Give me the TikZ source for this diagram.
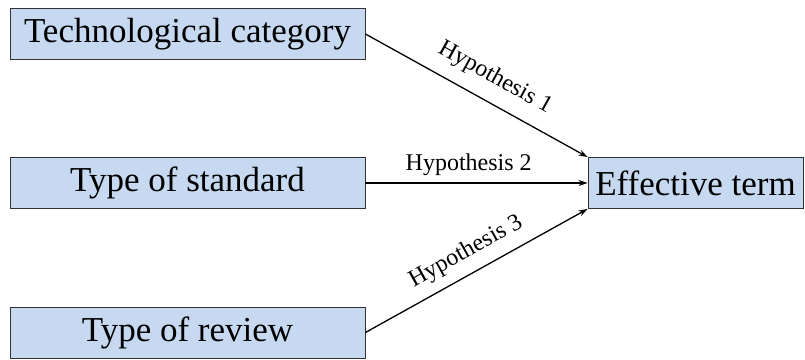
\documentclass[tikz,border=0pt]{standalone}
\usepackage{fontspec}
\setmainfont{Liberation Serif}
\newfontfamily\boxfont{Liberation Serif}
\usetikzlibrary{arrows.meta}
\definecolor{boxblue}{RGB}{198,217,240}
\tikzset{
  factor/.style={draw=black!80, line width=0.9pt, fill=boxblue, minimum width=355pt, minimum height=51pt, inner sep=0pt, font=\boxfont\fontsize{35}{40}\selectfont},
  target/.style={factor, minimum width=215pt},
  link/.style={line width=1.3pt, -{Stealth[length=9pt,width=6pt]}},
  hyp/.style={font=\boxfont\fontsize{24}{28}\selectfont, sloped, inner sep=2pt}
}
\begin{document}
\begin{tikzpicture}[x=1pt,y=1pt]
\useasboundingbox (0,0) rectangle (805,-359);
\node[factor] (tc) at (187.5,-34) {Technological category};
\node[factor] (ts) at (187.5,-183) {Type of standard};
\node[factor] (tr) at (187.5,-332.5) {Type of review};
\node[target] (et) at (695.5,-183) {Effective term};
\draw[link] (tc.east) -- node[hyp, pos=0.53, above=11pt] {Hypothesis 1} (et.north west);
\draw[link] (ts.east) -- node[hyp, pos=0.465, above=5pt] {Hypothesis 2} (et.west);
\draw[link] (tr.east) -- node[hyp, pos=0.50, above=8pt] {Hypothesis 3} (et.south west);
\end{tikzpicture}
\end{document}
